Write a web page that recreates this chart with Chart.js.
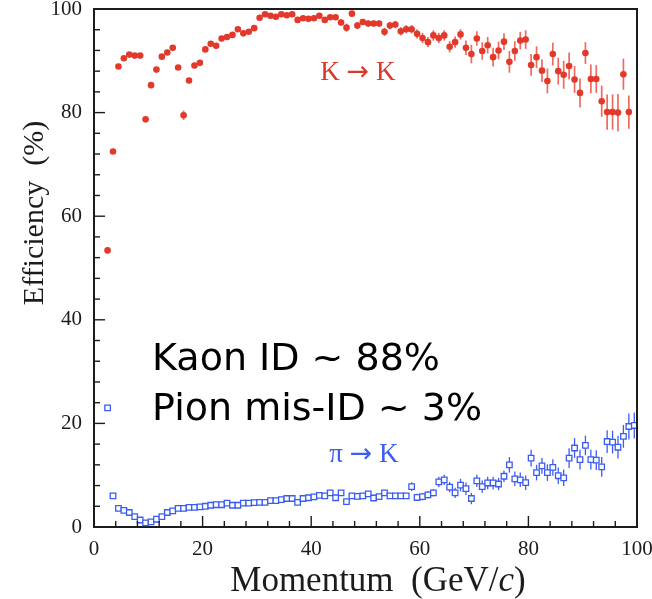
<!DOCTYPE html>
<html>
<head>
<meta charset="utf-8">
<script src="https://cdn.jsdelivr.net/npm/chart.js@4.4.1/dist/chart.umd.min.js"></script>
<style>
  html, body { margin: 0; padding: 0; background: #ffffff; }
  #wrap { width: 652px; height: 599px; }
</style>
</head>
<body>
<div id="wrap"><canvas id="c" width="652" height="599"></canvas></div>
<script>
// Bin centres in momentum (GeV/c)
const momentum = [
  2.5, 3.5, 4.5, 5.5, 6.5, 7.5, 8.5, 9.5, 10.5, 11.5,
  12.5, 13.5, 14.5, 15.5, 16.5, 17.5, 18.5, 19.5, 20.5, 21.5,
  22.5, 23.5, 24.5, 25.5, 26.5, 27.5, 28.5, 29.5, 30.5, 31.5,
  32.5, 33.5, 34.5, 35.5, 36.5, 37.5, 38.5, 39.5, 40.5, 41.5,
  42.5, 43.5, 44.5, 45.5, 46.5, 47.5, 48.5, 49.5, 50.5, 51.5,
  52.5, 53.5, 54.5, 55.5, 56.5, 57.5, 58.5, 59.5, 60.5, 61.5,
  62.5, 63.5, 64.5, 65.5, 66.5, 67.5, 68.5, 69.5, 70.5, 71.5,
  72.5, 73.5, 74.5, 75.5, 76.5, 77.5, 78.5, 79.5, 80.5, 81.5,
  82.5, 83.5, 84.5, 85.5, 86.5, 87.5, 88.5, 89.5, 90.5, 91.5,
  92.5, 93.5, 94.5, 95.5, 96.5, 97.5, 98.5, 99.5
];

// K -> K efficiency (%) and its uncertainty
const kaonEff = [
  53.4, 72.5, 88.9, 90.5, 91.2, 91.0, 91.0, 78.7, 85.3, 88.3,
  90.8, 91.6, 92.5, 88.7, 79.5, 86.2, 89.1, 89.6, 92.2, 93.3,
  92.9, 94.3, 94.6, 95.0, 96.1, 95.3, 95.6, 96.3, 98.3, 99.0,
  98.7, 98.5, 99.0, 98.8, 99.0, 97.9, 98.2, 98.1, 98.2, 98.7,
  97.9, 98.4, 98.4, 97.4, 96.4, 99.1, 96.8, 97.5, 97.2, 97.2,
  97.2, 95.6, 96.8, 97.0, 95.7, 96.1, 96.1, 95.2, 94.4, 93.6,
  94.9, 94.4, 94.9, 92.7, 93.6, 95.1, 92.5, 91.3, 94.3, 91.9,
  93.0, 90.7, 92.0, 93.7, 89.8, 91.9, 93.9, 94.1, 89.2, 90.7,
  88.1, 86.1, 91.3, 88.0, 87.3, 89.0, 86.4, 83.8, 91.5, 86.5,
  86.5, 82.2, 80.1, 80.1, 80.0, 87.4, 80.1
];
const kaonErr = [
  0.4, 0.4, 0.3, 0.3, 0.3, 0.3, 0.3, 0.5, 0.4, 0.3,
  0.3, 0.3, 0.4, 0.4, 0.9, 0.5, 0.3, 0.3, 0.3, 0.3,
  0.3, 0.3, 0.3, 0.3, 0.3, 0.3, 0.3, 0.3, 0.4, 0.4,
  0.4, 0.4, 0.4, 0.4, 0.4, 0.4, 0.4, 0.4, 0.4, 0.4,
  0.4, 0.4, 0.4, 0.6, 0.8, 0.5, 0.7, 0.6, 0.6, 0.6,
  0.6, 0.8, 0.7, 0.7, 0.8, 0.8, 0.8, 0.9, 1.0, 1.0,
  1.0, 1.0, 1.0, 1.1, 1.1, 1.0, 1.4, 1.8, 1.4, 1.7,
  1.6, 1.8, 1.7, 1.6, 2.1, 1.9, 1.7, 1.8, 2.1, 2.1,
  2.2, 2.4, 2.2, 2.6, 2.7, 2.6, 2.6, 2.8, 2.1, 2.8,
  2.7, 3.0, 3.4, 3.4, 3.6, 3.0, 3.2
];

// pi -> K mis-identification rate (%) and its uncertainty
const pionEff = [
  23.0, 6.0, 3.6, 3.2, 2.8, 2.0, 1.35, 0.8, 1.0, 1.5,
  2.0, 2.8, 3.1, 3.6, 3.6, 3.8, 3.8, 3.9, 4.0, 4.2,
  4.3, 4.3, 4.6, 4.2, 4.2, 4.6, 4.6, 4.7, 4.75, 4.75,
  5.1, 5.1, 5.3, 5.5, 5.5, 4.75, 5.5, 5.65, 5.8, 6.1,
  6.0, 6.6, 5.65, 6.6, 4.9, 6.0, 5.9, 6.0, 6.4, 5.6,
  5.85, 6.6, 6.0, 6.0, 6.0, 6.0, 7.8, 5.7, 5.85, 6.2,
  6.6, 8.7, 9.1, 7.7, 6.6, 8.1, 7.4, 5.5, 8.9, 7.8,
  8.5, 8.5, 8.3, 9.8, 12.0, 9.3, 9.1, 8.55, 13.3, 10.5,
  11.8, 10.5, 11.5, 9.9, 9.5, 13.3, 15.25, 13.0, 15.75, 13.0,
  12.9, 11.6, 16.5, 16.4, 15.4, 17.5, 19.4, 19.6
];
const pionErr = [
  0.3, 0.3, 0.3, 0.3, 0.3, 0.3, 0.3, 0.3, 0.3, 0.3,
  0.3, 0.3, 0.3, 0.3, 0.3, 0.3, 0.3, 0.3, 0.3, 0.3,
  0.3, 0.3, 0.3, 0.3, 0.3, 0.3, 0.3, 0.3, 0.3, 0.3,
  0.3, 0.3, 0.3, 0.3, 0.3, 0.3, 0.3, 0.4, 0.4, 0.4,
  0.5, 0.5, 0.5, 0.5, 0.5, 0.5, 0.5, 0.5, 0.5, 0.5,
  0.5, 0.5, 0.5, 0.5, 0.5, 0.5, 0.85, 0.7, 0.7, 0.7,
  0.7, 1.0, 1.0, 1.0, 1.0, 1.2, 1.2, 1.1, 1.2, 1.2,
  1.2, 1.2, 1.2, 1.1, 1.5, 1.4, 1.4, 1.4, 1.6, 1.5,
  1.5, 1.6, 1.6, 1.6, 1.6, 1.9, 1.9, 1.9, 1.9, 1.9,
  1.9, 1.9, 2.2, 2.2, 2.2, 2.2, 2.5, 2.5
];

// Axis ranges and tick spacing
const axisMin = 0;
const axisMax = 100;
const minorStep = 4;
const majorStep = 20;

const SERIF = '"Liberation Serif"';
const ARROW_FONT = '"DejaVu Sans"';

// Labels placed in data coordinates; each is a list of text runs
const labels = [
  { runs: [['K ', SERIF], ['\u2192', ARROW_FONT], [' K', SERIF]], size: 27, x: 48.6, y: 86.3, color: '#d8392c', align: 'center' },
  { runs: [['\u03c0 ', SERIF], ['\u2192', ARROW_FONT], [' K', SERIF]], size: 27, x: 49.7, y: 12.5, color: '#3d5cf0', align: 'center' },
  { runs: [['Kaon ID ~ 88%', '"DejaVu Sans"']], size: 38, x: 10.7, y: 30.4, color: '#000000', align: 'left' },
  { runs: [['Pion mis-ID ~ 3%', '"DejaVu Sans"']], size: 38, x: 10.7, y: 20.7, color: '#000000', align: 'left' }
];

const RED = '#e2392b';
const RED_BAR = '#ee6b5e';
const BLUE = '#3b5cf2';
const INK = '#1c1c1c';

const kaonPoints = kaonEff.map((v, i) => ({ x: momentum[i], y: v }));
const pionPoints = pionEff.map((v, i) => ({ x: momentum[i], y: v }));

function drawRuns(ctx, runs, size, x, y, align) {
  const fonts = runs.map(r => size + 'px ' + r[1]);
  const widths = runs.map((r, i) => { ctx.font = fonts[i]; return ctx.measureText(r[0]).width; });
  const total = widths.reduce((a, b) => a + b, 0);
  let cx = align === 'center' ? x - total / 2 : x;
  ctx.textAlign = 'left';
  ctx.textBaseline = 'alphabetic';
  runs.forEach((r, i) => {
    ctx.font = fonts[i];
    ctx.fillText(r[0], cx, y);
    cx += widths[i];
  });
}

// Vertical error bars, drawn underneath the markers
const errorBars = {
  id: 'errorBars',
  beforeDatasetsDraw(chart) {
    const { ctx, chartArea, scales: { x, y } } = chart;
    const sets = [
      { vals: kaonEff, errs: kaonErr, color: RED_BAR, width: 1.7 },
      { vals: pionEff, errs: pionErr, color: BLUE, width: 1.3 }
    ];
    ctx.save();
    ctx.beginPath();
    ctx.rect(chartArea.left, chartArea.top, chartArea.right - chartArea.left, chartArea.bottom - chartArea.top);
    ctx.clip();
    sets.forEach(s => {
      ctx.strokeStyle = s.color;
      ctx.lineWidth = s.width;
      s.vals.forEach((v, i) => {
        const px = x.getPixelForValue(momentum[i]);
        const y1 = y.getPixelForValue(v + s.errs[i]);
        const y2 = y.getPixelForValue(v - s.errs[i]);
        ctx.beginPath();
        ctx.moveTo(px, y1);
        ctx.lineTo(px, y2);
        ctx.stroke();
      });
    });
    ctx.restore();
  }
};

// Inward tick marks, frame, titles and labels
const decorations = {
  id: 'decorations',
  afterDatasetsDraw(chart) {
    const { ctx, scales: { x, y } } = chart;
    ctx.save();
    labels.forEach(l => {
      ctx.fillStyle = l.color;
      drawRuns(ctx, l.runs, l.size, x.getPixelForValue(l.x), y.getPixelForValue(l.y), l.align);
    });
    ctx.restore();
  },
  afterDraw(chart) {
    const { ctx, chartArea: a, scales: { x, y } } = chart;
    ctx.save();
    ctx.strokeStyle = INK;
    ctx.lineWidth = 1.4;
    x.ticks.forEach(t => {
      const px = x.getPixelForValue(t.value);
      const len = (t.value % majorStep === 0) ? 11 : 6;
      ctx.beginPath();
      ctx.moveTo(px, a.bottom);
      ctx.lineTo(px, a.bottom - len);
      ctx.stroke();
    });
    y.ticks.forEach(t => {
      const py = y.getPixelForValue(t.value);
      const len = (t.value % majorStep === 0) ? 11 : 6;
      ctx.beginPath();
      ctx.moveTo(a.left, py);
      ctx.lineTo(a.left + len, py);
      ctx.stroke();
    });
    // top and right edges of the frame
    ctx.lineWidth = 2;
    ctx.beginPath();
    ctx.moveTo(a.left, a.top);
    ctx.lineTo(a.right, a.top);
    ctx.lineTo(a.right, a.bottom);
    ctx.stroke();

    ctx.fillStyle = INK;

    // y-axis title
    ctx.save();
    ctx.translate(43, 213);
    ctx.rotate(-Math.PI / 2);
    drawRuns(ctx, [['Efficiency  (%)', SERIF]], 30, 0, 0, 'center');
    ctx.restore();

    // x-axis title, with the c set in italic
    const size = 35;
    const mid = 378;
    ctx.font = size + 'px ' + SERIF;
    const wA = ctx.measureText('Momentum  (GeV/').width;
    const wC = ctx.measureText(')').width;
    ctx.font = 'italic ' + size + 'px ' + SERIF;
    const wB = ctx.measureText('c').width;
    let tx = mid - (wA + wB + wC) / 2;
    const ty = 591;
    ctx.textAlign = 'left';
    ctx.textBaseline = 'alphabetic';
    ctx.font = size + 'px ' + SERIF; ctx.fillText('Momentum  (GeV/', tx, ty); tx += wA;
    ctx.font = 'italic ' + size + 'px ' + SERIF; ctx.fillText('c', tx, ty); tx += wB;
    ctx.font = size + 'px ' + SERIF; ctx.fillText(')', tx, ty);
    ctx.restore();
  }
};

const tickFont = { family: SERIF, size: 21 };

new Chart(document.getElementById('c'), {
  type: 'scatter',
  data: {
    datasets: [
      {
        label: 'K \u2192 K',
        data: kaonPoints,
        pointStyle: 'circle',
        pointRadius: 3.3,
        pointBackgroundColor: RED,
        pointBorderWidth: 0,
        showLine: false
      },
      {
        label: '\u03c0 \u2192 K',
        data: pionPoints,
        pointStyle: 'rect',
        pointRadius: 3.9,
        pointBackgroundColor: '#ffffff',
        pointBorderColor: BLUE,
        pointBorderWidth: 1.3,
        showLine: false
      }
    ]
  },
  options: {
    responsive: false,
    devicePixelRatio: 1,
    animation: false,
    events: [],
    layout: { padding: { left: 0, right: 15, top: 9, bottom: 0 } },
    plugins: { legend: { display: false }, tooltip: { enabled: false } },
    scales: {
      x: {
        type: 'linear',
        min: axisMin,
        max: axisMax,
        afterFit(s) { s.height = 72; s.paddingLeft = 0; s.paddingRight = 0; },
        grid: { display: false, drawTicks: false },
        border: { display: true, color: INK, width: 2 },
        ticks: {
          stepSize: minorStep,
          autoSkip: false,
          maxRotation: 0,
          padding: 10,
          color: INK,
          font: tickFont,
          callback: v => (v % majorStep === 0 ? String(v) : '')
        }
      },
      y: {
        type: 'linear',
        min: axisMin,
        max: axisMax,
        afterFit(s) { s.width = 94; s.paddingTop = 0; s.paddingBottom = 0; },
        grid: { display: false, drawTicks: false },
        border: { display: true, color: INK, width: 2 },
        ticks: {
          stepSize: minorStep,
          autoSkip: false,
          padding: 12,
          color: INK,
          font: tickFont,
          callback: v => (v % majorStep === 0 ? String(v) : '')
        }
      }
    }
  },
  plugins: [errorBars, decorations]
});
</script>
</body>
</html>
